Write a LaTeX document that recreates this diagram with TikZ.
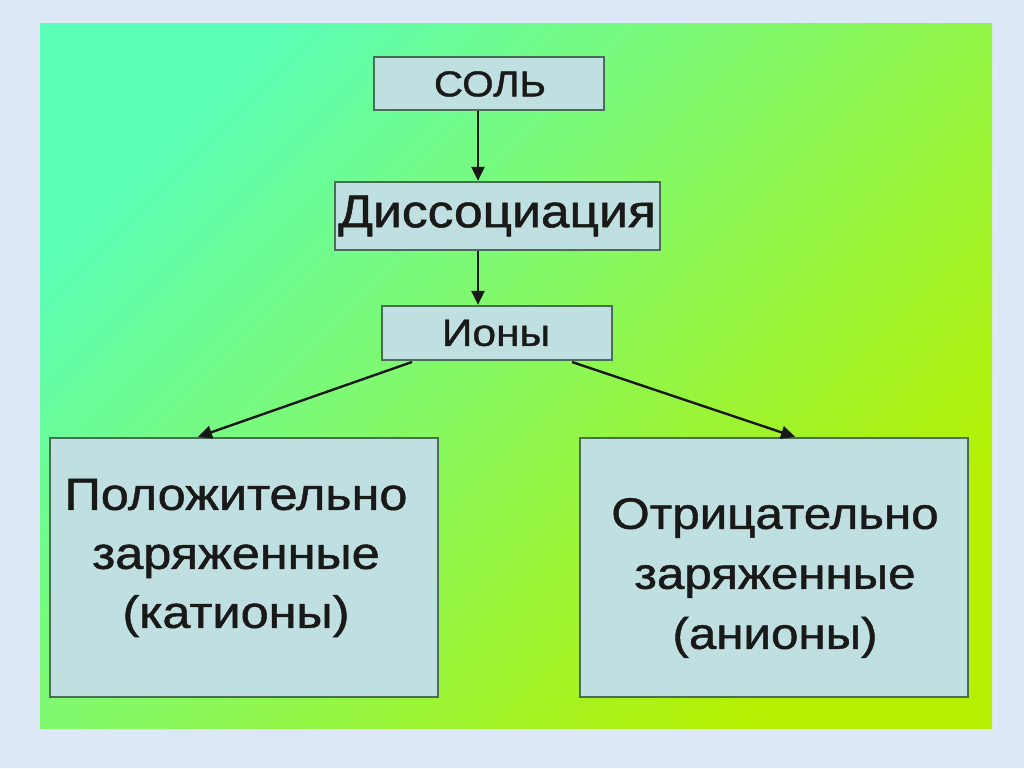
\documentclass[tikz,border=0pt]{standalone}
\usepackage{fontspec}
\setmainfont[FakeStretch=1.12,FakeBold=1.1]{Liberation Sans}
\usetikzlibrary{arrows.meta}

\definecolor{paper}{HTML}{DDE8F6}
\definecolor{mint}{HTML}{5CFFB6}
\definecolor{lime}{HTML}{B6F000}
\definecolor{boxfill}{HTML}{C0DFE0}
\definecolor{boxline}{HTML}{4A6E55}

\tikzset{
  box/.style={draw=boxline, fill=boxfill, line width=2.2pt, inner sep=0pt},
  arr/.style={-{Triangle[length=14pt,width=13pt]}, line width=2.4pt, black!90},
  label/.style={text=black!90, align=center},
}

\begin{document}
\begin{tikzpicture}[x=1pt,y=1pt]

\fill [paper] (0,0) rectangle (1024,768);
\shade [top color=mint, bottom color=lime, shading angle=45] (40,40) rectangle (992,744);
\useasboundingbox (0,0) rectangle (1024,768);

\coordinate (stem) at (478,0);
\coordinate (footL) at (412,406);
\coordinate (tipL) at (198,0);
\coordinate (footR) at (572,406);
\coordinate (tipR) at (795,0);

\node [box, minimum width=230, minimum height=53] (sol) at (489,684.5) {};
\node [box, minimum width=325, minimum height=68] (diss) at (497.5,552) {};
\node [box, minimum width=230, minimum height=54] (ions) at (497,435) {};
\node [box, minimum width=388, minimum height=259] (pos) at (244,200.5) {};
\node [box, minimum width=388, minimum height=259] (neg) at (774,200.5) {};

\node [label, font=\fontsize{36}{40}\selectfont] (soltext) at (490,684) {СОЛЬ};
\node [label, font=\fontsize{46}{50}\selectfont] (disstext) at (497,552) {Диссоциация};
\node [label, font=\fontsize{38}{42}\selectfont] (ionstext) at (496,435) {Ионы};
\node [label, font=\fontsize{45}{59}\selectfont] (postext) at (236,210) {Положительно\\ заряженные\\ (катионы)};
\node [label, font=\fontsize{44}{60}\selectfont] (negtext) at (775,190) {Отрицательно\\ заряженные\\ (анионы)};

\draw [arr] (sol.south -| stem) -- (diss.north -| stem);
\draw [arr] (diss.south -| stem) -- (ions.north -| stem);
\draw [arr] (footL) -- (pos.north -| tipL);
\draw [arr] (footR) -- (neg.north -| tipR);
\end{tikzpicture}
\end{document}
